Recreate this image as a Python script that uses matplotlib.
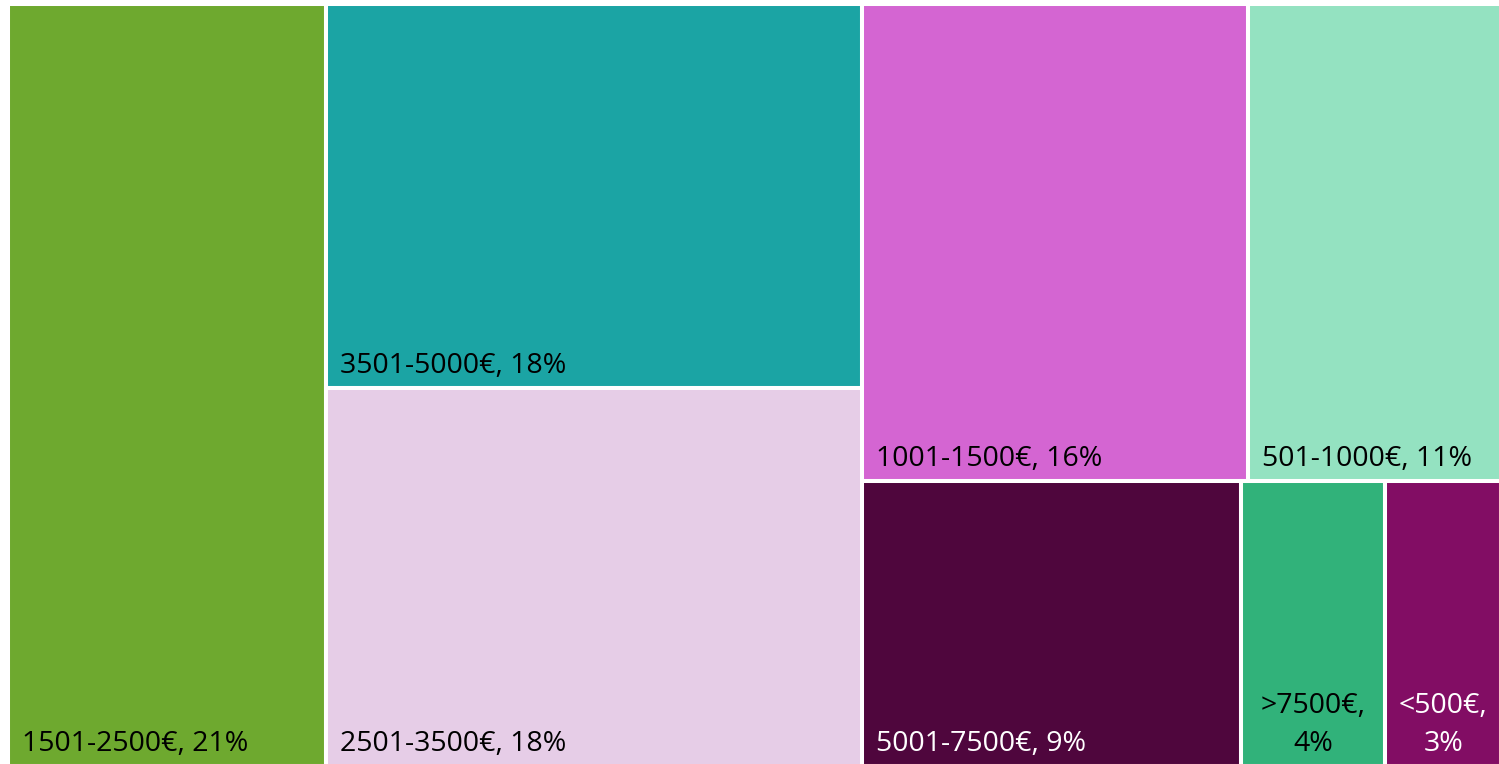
import matplotlib
matplotlib.use('Agg')
import matplotlib.pyplot as plt
from matplotlib.patches import Rectangle

plt.rcParams['font.family'] = ['Open Sans', 'DejaVu Sans']

# income bands, in the order Excel lays them out
bands = ['1501-2500€', '3501-5000€', '2501-3500€', '1001-1500€',
         '501-1000€', '5001-7500€', '>7500€', '<500€']
# area shares and the rounded percentages shown
shares = [21.3, 18.1, 17.8, 16.2, 10.6, 9.5, 3.6, 2.9]
pct_labels = [21, 18, 18, 16, 11, 9, 4, 3]
colors = ['#6EA92F', '#1BA4A4', '#E6CDE7', '#D465D2',
          '#94E2C1', '#4F063D', '#31B27A', '#820D64']
text_colors = ['black', 'black', 'black', 'black',
               'black', 'white', 'black', 'white']

# column structure: single, vertical stack, and rows split horizontally
columns = [[0], [1, 2], [[3, 4], [5, 6, 7]]]

W, H = 1499, 764
fig = plt.figure(figsize=(W / 100, H / 100), dpi=100)
ax = fig.add_axes([8 / W, -2 / H, (W - 8 + 2) / W, (H - 4 + 2) / H])
ax.set_xlim(0, 1)
ax.set_ylim(0, 1)
ax.axis('off')

total = sum(shares)
boxes = {}
x = 0.0
for col in columns:
    if isinstance(col[0], list):
        col_sum = sum(shares[i] for row in col for i in row)
    else:
        col_sum = sum(shares[i] for i in col)
    cw = col_sum / total
    top = 1.0
    if isinstance(col[0], list):
        for row in col:
            row_sum = sum(shares[i] for i in row)
            rh = row_sum / col_sum
            xx = x
            for i in row:
                bw = cw * shares[i] / row_sum
                boxes[i] = (xx, top - rh, bw, rh)
                xx += bw
            top -= rh
    else:
        for i in col:
            bh = shares[i] / col_sum
            boxes[i] = (x, top - bh, cw, bh)
            top -= bh
    x += cw

for i, (bx, by, bw, bh) in boxes.items():
    ax.add_patch(Rectangle((bx, by), bw, bh, facecolor=colors[i],
                           edgecolor='white', linewidth=2.9))

fig.canvas.draw()
renderer = fig.canvas.get_renderer()
px_per_x = ax.transAxes.transform((1, 0))[0] - ax.transAxes.transform((0, 0))[0]

for i, (bx, by, bw, bh) in boxes.items():
    label = f'{bands[i]}, {pct_labels[i]}%'
    t = ax.annotate(label, (bx, by), xytext=(10, 11), textcoords='offset points',
                    ha='left', va='baseline', fontsize=20.5, color=text_colors[i])
    tw = t.get_window_extent(renderer).width
    if tw > bw * px_per_x - 20:
        t.remove()
        ax.annotate(f'{bands[i]},\n{pct_labels[i]}%', (bx + bw / 2, by),
                    xytext=(0, 11), textcoords='offset points',
                    ha='center', va='baseline', fontsize=20.5,
                    color=text_colors[i], linespacing=1.45)

fig.savefig('out.png', dpi=100)
